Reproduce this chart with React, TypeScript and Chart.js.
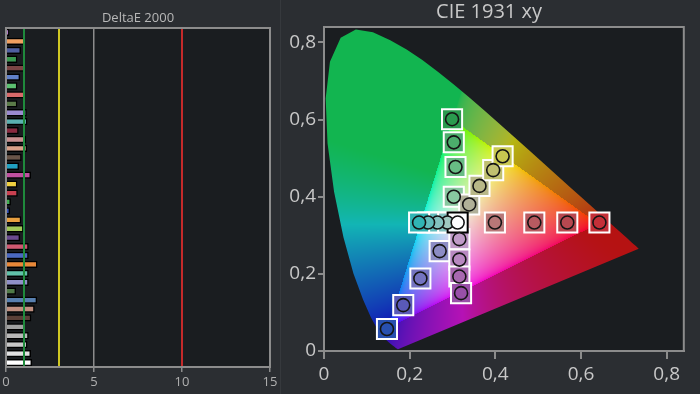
import React, { useEffect, useRef } from 'react';
import { Chart, registerables } from 'chart.js';
Chart.register(...registerables);

// ---------- DeltaE panel data ----------
const patchLabels = ['1','2','3','4','5','6','7','8','9','10','11','12','13','14','15','16','17','18','19','20','21','22','23','24','25','26','27','28','29','30','31','32','33','34','35','36','37','38'];
const deltaE = [0.19,1.08,0.85,0.65,1.08,0.80,0.65,1.08,0.65,1.18,1.22,0.72,1.14,1.20,0.89,0.74,1.42,0.65,0.67,0.28,0.23,0.87,1.00,0.80,1.29,1.29,1.79,1.29,1.29,0.57,1.77,1.63,1.44,1.06,1.29,1.22,1.42,1.48];
const barColors = ['#b07cc6','#f0a060','#4f5fa0','#3a9a50','#7a4545','#6080c8','#5cc070','#d86a6a','#5a7a48','#9a8ad0','#5ab0b0','#8a2a40','#c89090','#d8a088','#6a5548','#20a0c0','#c050a0','#f0d040','#c84050','#40b050','#3050c0','#e8a040','#a0c858','#6a4a90','#d05870','#4a68c0','#e88838','#60c0a8','#9090c8','#507a48','#5880b0','#c09080','#5a4038','#a0a0a0','#b8b8b8','#c8c8c8','#e0e0e0','#ffffff'];
const deltaTicks = [0, 5, 10, 15];
const thresholdValues = [1, 3, 10];
const thresholdColors = ['#1f8a3c', '#cfc722', '#c42a2a'];

// ---------- CIE panel data ----------
const locusX = [0.1741,0.1740,0.1738,0.1736,0.1733,0.1730,0.1726,0.1721,0.1714,0.1703,0.1689,0.1669,0.1644,0.1611,0.1566,0.1510,0.1440,0.1355,0.1241,0.1096,0.0913,0.0687,0.0454,0.0235,0.0082,0.0039,0.0139,0.0389,0.0743,0.1142,0.1547,0.1929,0.2296,0.2658,0.3016,0.3373,0.3731,0.4087,0.4441,0.4788,0.5125,0.5448,0.5752,0.6029,0.6270,0.6482,0.6658,0.6801,0.6915,0.7006,0.7079,0.7140,0.7190,0.7230,0.7260,0.7300,0.7334,0.7347];
const locusY = [0.0050,0.0050,0.0049,0.0049,0.0048,0.0048,0.0048,0.0048,0.0051,0.0058,0.0069,0.0086,0.0109,0.0138,0.0177,0.0227,0.0297,0.0399,0.0578,0.0868,0.1327,0.2007,0.2950,0.4127,0.5384,0.6548,0.7502,0.8120,0.8338,0.8262,0.8059,0.7816,0.7543,0.7243,0.6923,0.6589,0.6245,0.5896,0.5547,0.5202,0.4866,0.4544,0.4242,0.3965,0.3725,0.3514,0.3340,0.3197,0.3083,0.2993,0.2920,0.2859,0.2809,0.2770,0.2740,0.2700,0.2666,0.2653];

const cieTicks = [0, 0.2, 0.4, 0.6, 0.8];

const redX = [0.399, 0.491, 0.568, 0.643];
const redY = [0.333, 0.333, 0.333, 0.333];
const redColors = ['#b87878', '#b85a60', '#b84850', '#c43038'];
const greenX = [0.303, 0.307, 0.303, 0.299];
const greenY = [0.400, 0.477, 0.541, 0.601];
const greenColors = ['#88c8a0', '#68bc84', '#4cae6c', '#2a9a4e'];
const blueX = [0.270, 0.225, 0.185, 0.147];
const blueY = [0.259, 0.188, 0.119, 0.057];
const blueColors = ['#8c8cc4', '#7474c0', '#5a5ab8', '#2850b0'];
const cyanX = [0.288, 0.265, 0.243, 0.222];
const cyanY = [0.333, 0.333, 0.333, 0.333];
const cyanColors = ['#a0c8c0', '#84c2c0', '#62bcbc', '#30b4b4'];
const magentaX = [0.316, 0.316, 0.316, 0.320];
const magentaY = [0.290, 0.237, 0.193, 0.150];
const magentaColors = ['#c09ac8', '#b888c0', '#a868b0', '#9850a8'];
const yellowX = [0.339, 0.363, 0.395, 0.417];
const yellowY = [0.380, 0.428, 0.469, 0.505];
const yellowColors = ['#b0b098', '#b8b888', '#c0c070', '#c8c850'];
const whiteX = [0.312];
const whiteY = [0.333];
const whiteColors = ['#ffffff'];

const OUTER_BG = '#2b2e32';
const PLOT_BG = '#1a1d20';
const FRAME = '#8c8c8c';
const FONT = '"Open Sans", "DejaVu Sans", sans-serif';

const bgPlugin = {
  id: 'bgPlugin',
  beforeDraw(chart: any) {
    const { ctx, chartArea: a, width, height } = chart;
    ctx.save();
    ctx.fillStyle = OUTER_BG;
    ctx.fillRect(0, 0, width, height);
    ctx.fillStyle = PLOT_BG;
    ctx.fillRect(a.left, a.top, a.right - a.left, a.bottom - a.top);
    ctx.restore();
  },
};

const framePlugin = {
  id: 'framePlugin',
  afterDraw(chart: any) {
    const { ctx, chartArea: a } = chart;
    ctx.save();
    ctx.strokeStyle = FRAME;
    ctx.lineWidth = 2;
    ctx.strokeRect(a.left, a.top, a.right - a.left, a.bottom - a.top);
    ctx.restore();
  },
};

const thresholdPlugin = {
  id: 'thresholdPlugin',
  afterDatasetsDraw(chart: any) {
    const { ctx, chartArea: a, scales } = chart;
    ctx.save();
    thresholdValues.forEach((v, i) => {
      const px = Math.round(scales.x.getPixelForValue(v));
      ctx.strokeStyle = thresholdColors[i];
      ctx.lineWidth = 2;
      ctx.beginPath();
      ctx.moveTo(px, a.top);
      ctx.lineTo(px, a.bottom);
      ctx.stroke();
    });
    ctx.restore();
  },
};

const gam = (c: number) => (c <= 0.0031308 ? 12.92 * c : 1.055 * Math.pow(c, 1 / 2.4) - 0.055);

const ciePlugin = {
  id: 'ciePlugin',
  beforeDatasetsDraw(chart: any) {
    const { ctx, chartArea: a, scales } = chart;
    const xs = scales.x, ys = scales.y;
    const w = Math.ceil(a.right - a.left), h = Math.ceil(a.bottom - a.top);
    const off = document.createElement('canvas');
    off.width = w; off.height = h;
    const octx = off.getContext('2d')!;
    const img = octx.createImageData(w, h);
    const d = img.data;
    for (let j = 0; j < h; j++) {
      const cy = ys.getValueForPixel(a.top + j + 0.5);
      if (cy <= 0.0005) continue;
      for (let i = 0; i < w; i++) {
        const cx = xs.getValueForPixel(a.left + i + 0.5);
        const X = cx / cy, Z = (1 - cx - cy) / cy;
        const r0 = 3.2406 * X - 1.5372 - 0.4986 * Z;
        const g0 = -0.9689 * X + 1.8758 + 0.0415 * Z;
        const b0 = 0.0557 * X - 0.2040 + 1.0570 * Z;
        const inside = r0 >= 0 && g0 >= 0 && b0 >= 0;
        let r: number, g: number, b: number;
        if (inside) {
          const m = Math.max(r0, g0, b0);
          r = gam(r0 / m) * 255 * 0.95;
          g = gam(g0 / m) * 255 * 0.95;
          b = gam(b0 / m) * 255 * 0.95;
        } else {
          const rc = Math.max(r0, 0), gc = Math.max(g0, 0), bc = Math.max(b0, 0);
          const mc = Math.max(rc, gc, bc) || 1;
          const rr = rc / mc;
          let gg = gc / mc;
          let bb = bc / mc;
          if (bb > gg) gg = Math.pow(gg, 1.6);
          bb = Math.max(bb * bb, 0.12 * gg * (1 - rr));
          const k = 0.64, add = 18;
          r = gam(rr) * 255 * k + add;
          g = gam(gg) * 255 * k + add;
          b = gam(bb) * 255 * k + add;
        }
        const idx = (j * w + i) * 4;
        d[idx] = r; d[idx + 1] = g; d[idx + 2] = b; d[idx + 3] = 255;
      }
    }
    octx.putImageData(img, 0, 0);
    ctx.save();
    ctx.beginPath();
    locusX.forEach((lx, k) => {
      const px = xs.getPixelForValue(lx), py = ys.getPixelForValue(locusY[k]);
      if (k === 0) ctx.moveTo(px, py); else ctx.lineTo(px, py);
    });
    ctx.closePath();
    ctx.clip();
    ctx.drawImage(off, a.left, a.top);
    ctx.restore();
  },
};

const fmtComma = (v: any) => {
  const n = Number(v);
  if (Math.abs(n) < 1e-9) return '0';
  return n.toFixed(1).replace('.', ',');
};

function DeltaEChart() {
  const ref = useRef<HTMLCanvasElement>(null);
  useEffect(() => {
    const chart = new Chart(ref.current!, {
      type: 'bar',
      data: {
        labels: patchLabels,
        datasets: [{
          data: deltaE,
          backgroundColor: barColors,
          borderColor: '#000000',
          borderWidth: 1.5,
          barPercentage: 0.82,
          categoryPercentage: 1,
        }],
      },
      options: {
        indexAxis: 'y',
        responsive: false,
        animation: false,
        layout: { padding: { left: 6, right: 10, top: 0, bottom: 0 } },
        plugins: {
          legend: { display: false },
          tooltip: { enabled: false },
          title: {
            display: true,
            text: 'DeltaE 2000',
            color: '#b8b8b8',
            font: { family: FONT, size: 13, weight: 'normal' },
            padding: { top: 10, bottom: 2.4 },
          },
        },
        scales: {
          y: { type: 'category', display: false },
          x: {
            type: 'linear',
            min: 0,
            max: 15,
            afterBuildTicks: (s: any) => { s.ticks = deltaTicks.map((v) => ({ value: v })); },
            afterFit: (s: any) => { s.height = 27; },
            ticks: { color: '#b0b0b0', font: { family: FONT, size: 13 }, padding: 2, maxRotation: 0 },
            grid: { color: FRAME, lineWidth: 1.5, tickLength: 5, drawTicks: true },
            border: { color: FRAME, width: 2 },
          },
        },
      } as any,
      plugins: [bgPlugin, thresholdPlugin, framePlugin],
    });
    return () => chart.destroy();
  }, []);
  return <canvas ref={ref} width={280} height={394} style={{ position: 'absolute', left: 0, top: 0, width: 280, height: 394 }} />;
}

function toPts(xs: number[], ys: number[]) {
  return xs.map((x, i) => ({ x, y: ys[i] }));
}

function CIEChart() {
  const ref = useRef<HTMLCanvasElement>(null);
  useEffect(() => {
    const allX = [...redX, ...greenX, ...blueX, ...cyanX, ...magentaX, ...yellowX, ...whiteX];
    const allY = [...redY, ...greenY, ...blueY, ...cyanY, ...magentaY, ...yellowY, ...whiteY];
    const allC = [...redColors, ...greenColors, ...blueColors, ...cyanColors, ...magentaColors, ...yellowColors, ...whiteColors];
    const pts = toPts(allX, allY);
    const sqBorder = allC.map((c, i) => (i === allC.length - 1 ? '#000000' : '#ffffff'));
    const chart = new Chart(ref.current!, {
      type: 'scatter',
      data: {
        datasets: [
          {
            label: 'measured',
            data: pts,
            order: 1,
            pointStyle: 'circle',
            pointRadius: 6.5,
            pointBackgroundColor: allC,
            pointBorderColor: '#141414',
            pointBorderWidth: 1.6,
          },
          {
            label: 'target',
            data: pts,
            order: 2,
            pointStyle: 'rect',
            pointRadius: 14.2,
            pointBackgroundColor: allC,
            pointBorderColor: sqBorder,
            pointBorderWidth: 2,
          },
        ],
      },
      options: {
        responsive: false,
        animation: false,
        layout: { padding: { left: 0, right: 3, top: 0, bottom: 0 } },
        plugins: {
          legend: { display: false },
          tooltip: { enabled: false },
          title: {
            display: true,
            text: 'CIE 1931 xy',
            color: '#c8c8c8',
            font: { family: FONT, size: 20, weight: 'normal' },
            padding: { top: 0, bottom: 3 },
          },
        },
        scales: {
          x: {
            type: 'linear',
            min: 0,
            max: 0.84,
            afterBuildTicks: (s: any) => { s.ticks = cieTicks.map((v) => ({ value: v })); },
            afterFit: (s: any) => { s.height = 43; },
            ticks: { color: '#c8c8c8', font: { family: FONT, size: 19 }, padding: 4, maxRotation: 0, callback: fmtComma },
            grid: { drawOnChartArea: false, drawTicks: true, tickLength: 8, color: FRAME, lineWidth: 2 },
            border: { color: FRAME, width: 2 },
          },
          y: {
            type: 'linear',
            min: 0,
            max: 0.84,
            afterBuildTicks: (s: any) => { s.ticks = cieTicks.map((v) => ({ value: v })); },
            afterFit: (s: any) => { s.width = 43; },
            ticks: { color: '#c8c8c8', font: { family: FONT, size: 19 }, padding: 2, callback: fmtComma },
            grid: { drawOnChartArea: false, drawTicks: true, tickLength: 6, color: FRAME, lineWidth: 2 },
            border: { color: FRAME, width: 2 },
          },
        },
      } as any,
      plugins: [bgPlugin, ciePlugin, framePlugin],
    });
    return () => chart.destroy();
  }, []);
  return <canvas ref={ref} width={419} height={394} style={{ position: 'absolute', left: 281, top: 0, width: 419, height: 394 }} />;
}

export default function App() {
  useEffect(() => {
    document.body.style.margin = '0';
    document.body.style.background = OUTER_BG;
  }, []);
  return (
    <div style={{ position: 'relative', width: 700, height: 394, background: OUTER_BG, overflow: 'hidden' }}>
      <DeltaEChart />
      <div style={{ position: 'absolute', left: 280, top: 0, width: 1, height: 394, background: '#36393d' }} />
      <CIEChart />
    </div>
  );
}
